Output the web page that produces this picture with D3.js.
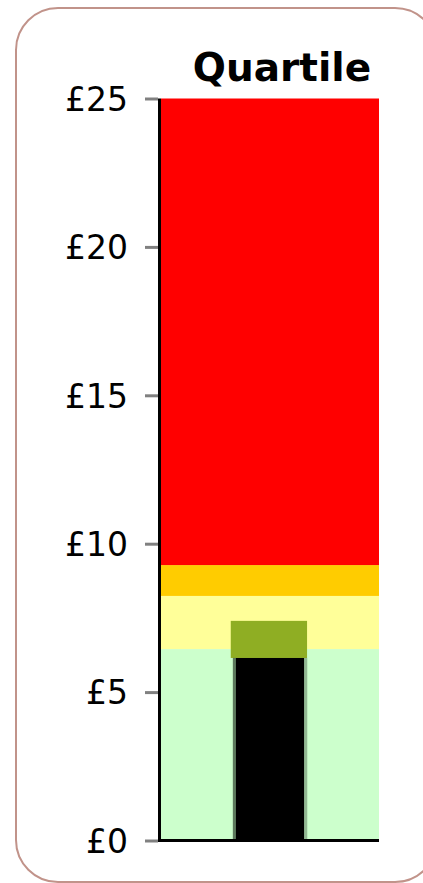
<!DOCTYPE html>
<html>
<head>
<meta charset="utf-8">
<script src="https://cdn.jsdelivr.net/npm/d3@7"></script>
<style>
  body { margin: 0; background: #fff; }
  .tick text { font-family: "DejaVu Sans", Verdana, sans-serif; }
</style>
</head>
<body>
<div class="chart"></div>
<script>
// chart data
var tickValues = [0, 5, 10, 15, 20, 25];
var tickLabels = ["£0", "£5", "£10", "£15", "£20", "£25"];
var bandEdges = [0, 6.45, 8.24, 9.28, 25];   // quartile boundaries
var bandColors = ["#ccffcc", "#ffff99", "#ffcc00", "#ff0000"];
var barValue = 6.15;
var markerRange = [6.15, 7.40];
var title = "Quartile";

var svgWidth = 423;
var svgHeight = 883;

var svg = d3.select(".chart").append("svg")
  .attr("width", svgWidth).attr("height", svgHeight);

// rounded frame
svg.append("rect")
  .attr("x", 16).attr("y", 8)
  .attr("width", 421).attr("height", 874)
  .attr("rx", 42).attr("ry", 42)
  .attr("fill", "none")
  .attr("stroke", "#c1938a")
  .attr("stroke-width", 2);

var plotLeft = 161, plotRight = 379;
var yScale = d3.scaleLinear().domain([0, 25]).range([840.5, 98.5]);
var xScale = d3.scaleLinear().domain([0, 1]).range([plotLeft, plotRight]);

var chart = svg.append("g");

// background quartile bands
var bands = bandColors.map(function(c, i) {
  return { from: bandEdges[i], to: bandEdges[i + 1], color: c };
});
chart.selectAll("rect.band").data(bands).enter().append("rect")
  .attr("class", "band")
  .attr("x", xScale(0))
  .attr("width", xScale(1) - xScale(0))
  .attr("y", function(d) { return yScale(d.to); })
  .attr("height", function(d) { return yScale(d.from) - yScale(d.to); })
  .attr("fill", function(d) { return d.color; });

// olive marker
chart.append("rect")
  .attr("x", xScale(0.32))
  .attr("width", xScale(0.67) - xScale(0.32))
  .attr("y", yScale(markerRange[1]))
  .attr("height", yScale(markerRange[0]) - yScale(markerRange[1]))
  .attr("fill", "#8fae23");

// value bar with shaded edges
var bx0 = xScale(0.33), bx1 = xScale(0.67);
chart.append("rect")
  .attr("x", bx0).attr("width", bx1 - bx0)
  .attr("y", yScale(barValue))
  .attr("height", yScale(0) - yScale(barValue))
  .attr("fill", "#000");
chart.append("rect")
  .attr("x", bx0).attr("width", 3)
  .attr("y", yScale(barValue))
  .attr("height", yScale(0) - yScale(barValue))
  .attr("fill", "#5d7a5d");
chart.append("rect")
  .attr("x", bx1 - 3).attr("width", 3)
  .attr("y", yScale(barValue))
  .attr("height", yScale(0) - yScale(barValue))
  .attr("fill", "#92b892");

// y axis
var yAxis = d3.axisLeft(yScale)
  .tickValues(tickValues)
  .tickFormat(function(d, i) { return tickLabels[i]; })
  .tickSize(13)
  .tickPadding(17);

var axisG = chart.append("g")
  .attr("transform", "translate(158,0)")
  .call(yAxis);
axisG.select(".domain").remove();
axisG.selectAll(".tick line")
  .attr("stroke", "#808080")
  .attr("stroke-width", 3);
axisG.selectAll(".tick text")
  .attr("font-size", 33)
  .attr("fill", "#000")
  .attr("dy", "0.36em");

// axis lines
chart.append("line")
  .attr("x1", 159.5).attr("x2", 159.5)
  .attr("y1", yScale(25)).attr("y2", 842)
  .attr("stroke", "#000").attr("stroke-width", 3);
chart.append("line")
  .attr("x1", 158).attr("x2", plotRight)
  .attr("y1", 840.5).attr("y2", 840.5)
  .attr("stroke", "#000").attr("stroke-width", 3);

// title
svg.append("text")
  .attr("x", 282).attr("y", 81)
  .attr("text-anchor", "middle")
  .attr("font-family", "'DejaVu Sans', Verdana, sans-serif")
  .attr("font-weight", "bold")
  .attr("font-size", 39)
  .attr("fill", "#000")
  .text(title);
</script>
</body>
</html>
